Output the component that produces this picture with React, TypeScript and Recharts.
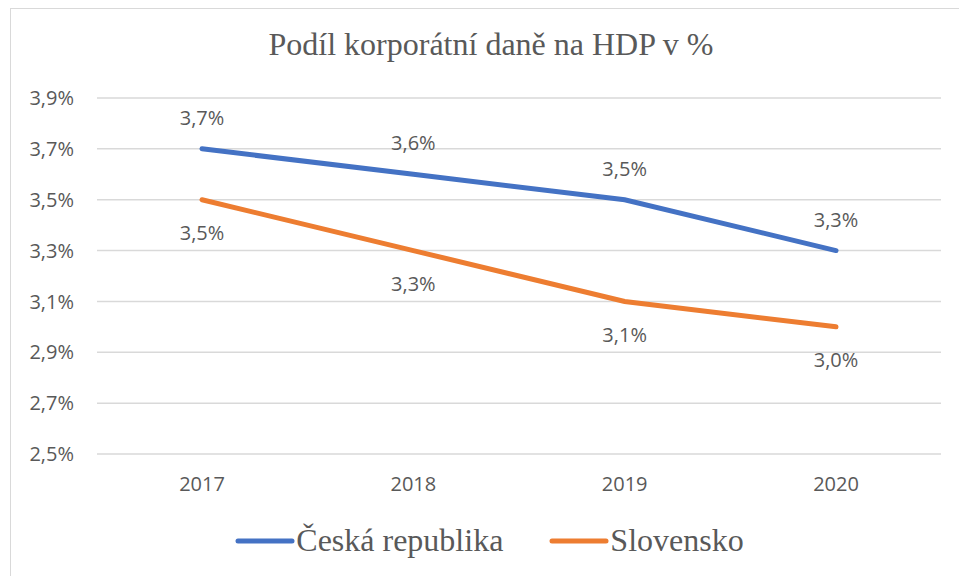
import React from 'react';
import { LineChart, Line, XAxis, YAxis, CartesianGrid, LabelList } from 'recharts';

const years = ['2017', '2018', '2019', '2020'];
const ceskaRepublika = [3.7, 3.6, 3.5, 3.3];
const slovensko = [3.5, 3.3, 3.1, 3.0];
const yTicks = [2.5, 2.7, 2.9, 3.1, 3.3, 3.5, 3.7, 3.9];

const seriesNames = { cz: 'Česká republika', sk: 'Slovensko' };
const colors = { cz: '#4472C4', sk: '#ED7D31' };

const data = years.map((year, i) => ({ year, cz: ceskaRepublika[i], sk: slovensko[i] }));

const fmt = (v: number) => v.toFixed(1).replace('.', ',') + '%';

const sans = '"Open Sans", "Noto Sans", sans-serif';
const serif = '"Liberation Serif", "DejaVu Serif", serif';
const textGray = '#595959';

function LegendBox() {
  const items = [
    { key: 'cz', name: seriesNames.cz, color: colors.cz },
    { key: 'sk', name: seriesNames.sk, color: colors.sk },
  ];
  return (
    <div style={{ display: 'flex', justifyContent: 'center', alignItems: 'center', gap: 46 }}>
      {items.map((it) => (
        <div key={it.key} style={{ display: 'flex', alignItems: 'center' }}>
          <svg width={60} height={10}>
            <line x1={3} y1={5} x2={57} y2={5} stroke={it.color} strokeWidth={5} strokeLinecap="round" />
          </svg>
          <span style={{ fontFamily: serif, fontSize: 32, color: textGray, marginLeft: 1 }}>{it.name}</span>
        </div>
      ))}
    </div>
  );
}

export default function App() {
  return (
    <div style={{ position: 'absolute', left: 0, top: 0, width: 959, height: 576, overflow: 'hidden', background: '#fff' }}>
      <div style={{ position: 'absolute', left: 10, top: 8, width: 1000, height: 700, border: '1.5px solid #d9d9d9' }} />
      <div
        style={{
          position: 'absolute',
          left: 0,
          top: 26,
          width: 982,
          textAlign: 'center',
          fontFamily: serif,
          fontSize: 32,
          color: textGray,
        }}
      >
        Podíl korporátní daně na HDP v %
      </div>
      <div style={{ position: 'absolute', left: 0, top: 0 }}>
        <LineChart width={959} height={576} data={data} margin={{ top: 98, right: 18, left: 0, bottom: 92 }}>
          <CartesianGrid vertical={false} stroke="#d9d9d9" strokeWidth={1.5} />
          <XAxis
            dataKey="year"
            height={30}
            axisLine={false}
            tickLine={false}
            tickSize={0}
            tickMargin={23}
            padding={{ left: 105, right: 105 }}
            tick={{ fill: textGray, fontSize: 20, fontFamily: sans }}
          />
          <YAxis
            domain={[2.5, 3.9]}
            ticks={yTicks}
            width={97}
            axisLine={false}
            tickLine={false}
            tickSize={0}
            tickMargin={23}
            tickFormatter={fmt}
            tick={{ fill: textGray, fontSize: 20, fontFamily: sans }}
          />
          <Line
            dataKey="cz"
            name={seriesNames.cz}
            stroke={colors.cz}
            strokeWidth={5}
            strokeLinecap="round"
            dot={false}
            isAnimationActive={false}
          >
            <LabelList dataKey="cz" position="top" offset={24} formatter={fmt} fill={textGray} fontSize={20} fontFamily={sans} />
          </Line>
          <Line
            dataKey="sk"
            name={seriesNames.sk}
            stroke={colors.sk}
            strokeWidth={5}
            strokeLinecap="round"
            dot={false}
            isAnimationActive={false}
          >
            <LabelList dataKey="sk" position="bottom" offset={26} formatter={fmt} fill={textGray} fontSize={20} fontFamily={sans} />
          </Line>
        </LineChart>
      </div>
      <div style={{ position: 'absolute', left: 10, top: 522, width: 959 }}>
        <LegendBox />
      </div>
    </div>
  );
}
